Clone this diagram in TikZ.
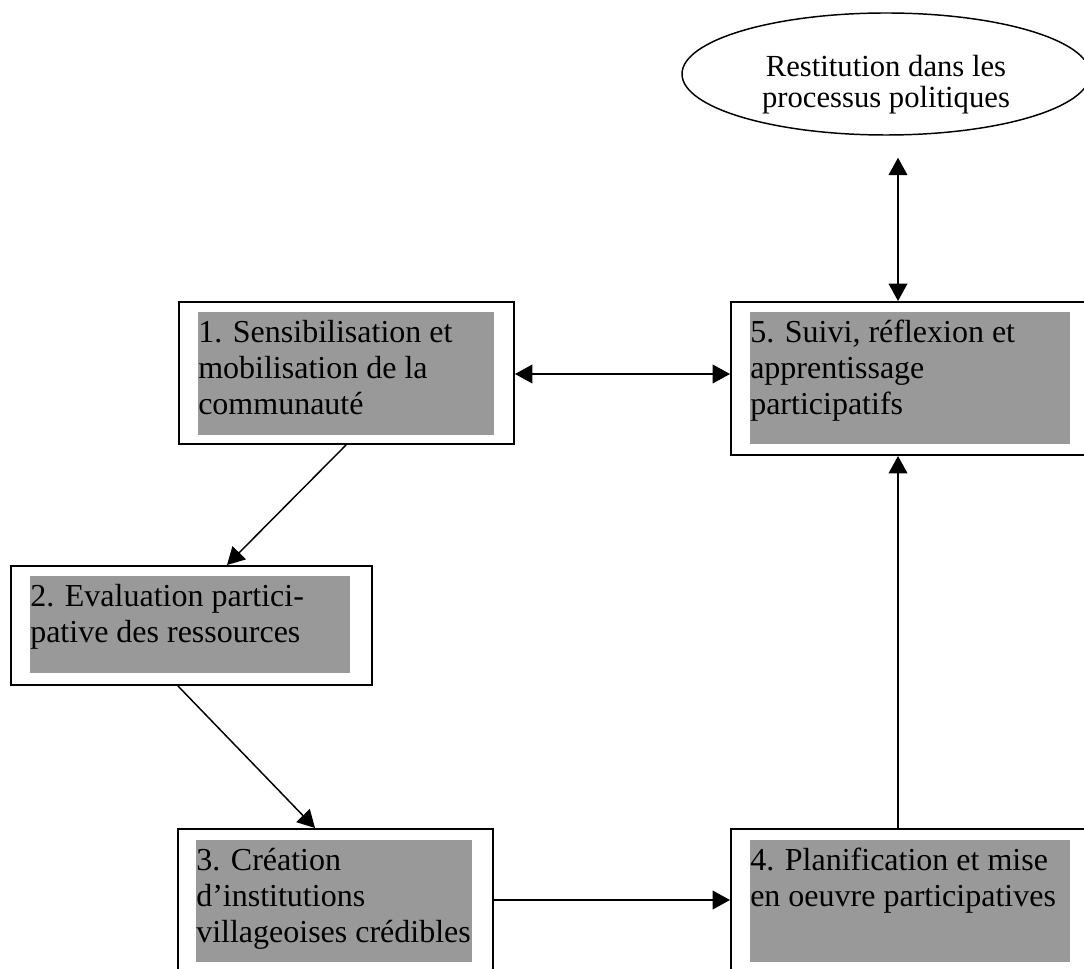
\documentclass[tikz,border=0pt]{standalone}
\usepackage{fontspec}
\setmainfont{Liberation Serif}
\usetikzlibrary{arrows.meta,shapes.geometric,calc}
\definecolor{boxgray}{RGB}{153,153,153}
\begin{document}
\begin{tikzpicture}[x=0.75pt,y=-0.75pt,
  outerbox/.style={draw, line width=1.5pt, inner sep=0pt, anchor=north west},
  graybox/.style={fill=boxgray, inner sep=0pt, anchor=north west},
  boxtext/.style={inner sep=0pt, anchor=north west, align=left, font=\fontsize{24}{27}\selectfont},
  arr/.style={line width=1.1pt, -{Triangle[length=13pt,width=14pt]}},
  arrboth/.style={line width=1.1pt, {Triangle[length=13pt,width=14pt]}-{Triangle[length=13pt,width=14pt]}}
  ]
\useasboundingbox (0,0) rectangle (1084,969);
\clip (0,0) rectangle (1084,969);
% ellipse
\node[ellipse, draw, line width=1.1pt, inner sep=0pt, minimum width=408*0.75pt, minimum height=122*0.75pt] (el) at (886,74) {};
\node[inner sep=0pt, anchor=north, align=center, font=\fontsize{23}{23.25}\selectfont] (elt) at (886,52) {\rule{0pt}{18pt}Restitution dans les\\processus politiques};
% box 1
\node[outerbox, minimum width=335*0.75pt, minimum height=142*0.75pt] (b1) at (178,301) {};
\node[graybox, minimum width=296*0.75pt, minimum height=123*0.75pt] (g1) at (198,312) {};
\node[boxtext] (t1) at (198,315.3) {\rule{0pt}{20pt}1. Sensibilisation et\\mobilisation de la\\communauté};
% box 2
\node[outerbox, minimum width=361*0.75pt, minimum height=119*0.75pt] (b2) at (10,565) {};
\node[graybox, minimum width=320*0.75pt, minimum height=97*0.75pt] (g2) at (30,576) {};
\node[boxtext] (t2) at (30,579.3) {\rule{0pt}{20pt}2. Evaluation partici-\\pative des ressources};
% box 3
\node[outerbox, minimum width=315*0.75pt, minimum height=200*0.75pt] (b3) at (177,828) {};
\node[graybox, minimum width=276*0.75pt, minimum height=122*0.75pt] (g3) at (196,840) {};
\node[boxtext] (t3) at (196,843.3) {\rule{0pt}{20pt}3. Création\\d’institutions\\villageoises crédibles};
% box 4
\node[outerbox, minimum width=400*0.75pt, minimum height=200*0.75pt] (b4) at (730,828) {};
\node[graybox, minimum width=320*0.75pt, minimum height=122*0.75pt] (g4) at (750,840) {};
\node[boxtext] (t4) at (750,843.3) {\rule{0pt}{20pt}4. Planification et mise\\en oeuvre participatives};
% box 5
\node[outerbox, minimum width=400*0.75pt, minimum height=153*0.75pt] (b5) at (730,301) {};
\node[graybox, minimum width=320*0.75pt, minimum height=132*0.75pt] (g5) at (750,312) {};
\node[boxtext] (t5) at (750,315.3) {\rule{0pt}{20pt}5. Suivi, réflexion et\\apprentissage\\participatifs};
% connectors
\draw[arrboth] ($(el.south)+(12,22)$) -- ($(b5.north west)+(168,0)$);
\draw[arrboth] ($(b1.north east)+(0,73)$) -- ($(b5.north west)+(0,73)$);
\draw[arr] ($(b1.south west)+(168,0)$) -- ($(b2.north west)+(217,0)$);
\draw[arr] ($(b2.south west)+(168,0)$) -- ($(b3.north west)+(138,0)$);
\draw[arr] ($(b3.north east)+(0,72)$) -- ($(b4.north west)+(0,72)$);
\draw[arr] ($(b4.north west)+(168,0)$) -- ($(b5.south west)+(168,0)$);
\end{tikzpicture}
\end{document}
